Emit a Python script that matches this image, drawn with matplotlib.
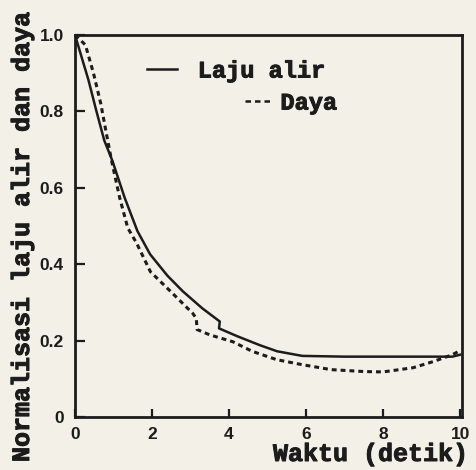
import matplotlib
matplotlib.use("Agg")
import matplotlib.pyplot as plt
from matplotlib.lines import Line2D
import matplotlib.patheffects as pe

# ---- data ----
t_laju = [0, 0.35, 0.55, 0.76, 0.97, 1.29, 1.62, 1.95, 2.4, 2.8, 3.3, 3.76, 3.74,
          4.2, 4.8, 5.25, 5.9, 7.0, 8.0, 9.0, 9.8, 10.0]
laju = [1.0, 0.882, 0.803, 0.724, 0.671, 0.574, 0.487, 0.426, 0.37, 0.329, 0.285,
        0.25, 0.232, 0.212, 0.188, 0.172, 0.16, 0.158, 0.158, 0.158, 0.158, 0.163]

t_daya = [0, 0.27, 0.48, 0.67, 0.8, 0.95, 1.16, 1.37, 1.6, 1.96, 2.48, 3.06, 3.15,
          3.17, 3.5, 4.1, 4.6, 5.24, 5.9, 6.65, 7.5, 8.0, 8.78, 9.3, 9.8, 10.0]
daya = [1.0, 0.974, 0.9, 0.82, 0.75, 0.671, 0.574, 0.495, 0.455, 0.38, 0.329, 0.271,
        0.258, 0.229, 0.215, 0.197, 0.172, 0.15, 0.137, 0.124, 0.119, 0.118, 0.129,
        0.145, 0.163, 0.174]

x_ticks = [0, 2, 4, 6, 8, 10]
x_ticklabels = ["0", "2", "4", "6", "8", "10"]
y_ticks = [0, 0.2, 0.4, 0.6, 0.8, 1.0]
y_ticklabels = ["0", "0.2", "0.4", "0.6", "0.8", "1.0"]

label_laju = "Laju alir"
label_daya = "Daya"
xlabel = "Waktu (detik)"
ylabel = "Normalisasi laju alir dan daya"

# ---- style ----
bg = "#f3f0e7"
ink = "#1c1c1c"
heavy = [pe.withStroke(linewidth=0.7, foreground=ink)]
W, H = 477, 470
fig = plt.figure(figsize=(W / 100, H / 100), dpi=100, facecolor=bg)
ax = fig.add_axes([75 / W, 1 - 417 / H, (462 - 75) / W, (417 - 35) / H])
ax.set_facecolor(bg)

ax.plot(t_laju, laju, color=ink, lw=1.8, solid_joinstyle="round")
ax.plot(t_daya, daya, color=ink, lw=2.2, linestyle=(0, (1.6, 1.3)))

ax.set_xlim(0, 10.05)
ax.set_ylim(0, 1.0)

for s in ax.spines.values():
    s.set_linewidth(2.0)
    s.set_color(ink)

tick_font = dict(family="Liberation Sans", weight="bold", size=12.5)
ax.set_xticks(x_ticks)
ax.set_xticklabels(x_ticklabels, fontdict=tick_font, color=ink)
ax.set_yticks(y_ticks)
ax.set_yticklabels(y_ticklabels, fontdict=tick_font, color=ink)
ax.tick_params(axis="x", direction="in", length=6, width=1.6, pad=7, colors=ink)
ax.tick_params(axis="y", direction="in", length=7, width=1.6, pad=8, colors=ink)

mono = dict(family="Liberation Mono", weight="bold")
fig.text(468 / W, 1 - 454 / H, xlabel, ha="right", va="center", size=18,
         color=ink, path_effects=heavy, **mono)
fig.text(22 / W, 1 - 237 / H, ylabel, ha="center", va="center", rotation=90,
         size=18, color=ink, path_effects=heavy, **mono)

# legends (two separate single-entry legends, as in the reference)
h1 = Line2D([], [], color=ink, lw=1.8)
leg1 = fig.legend([h1], [label_laju], loc="center left",
                  bbox_to_anchor=(147 / W, 1 - 71 / H), frameon=False,
                  borderpad=0, borderaxespad=0, handlelength=1.25,
                  handletextpad=0.9, prop=dict(size=17, **mono))
for tx in leg1.get_texts():
    tx.set_color(ink)
    tx.set_path_effects(heavy)
h2 = Line2D([], [], color=ink, lw=1.8, linestyle=(0, (2.2, 1.6)))
leg2 = fig.legend([h2], [label_daya], loc="center left",
                  bbox_to_anchor=(245 / W, 1 - 103 / H), frameon=False,
                  borderpad=0, borderaxespad=0, handlelength=1.05,
                  handletextpad=0.45, prop=dict(size=17, **mono))
for tx in leg2.get_texts():
    tx.set_color(ink)
    tx.set_path_effects(heavy)

fig.savefig("out.png", dpi=100, facecolor=bg)
